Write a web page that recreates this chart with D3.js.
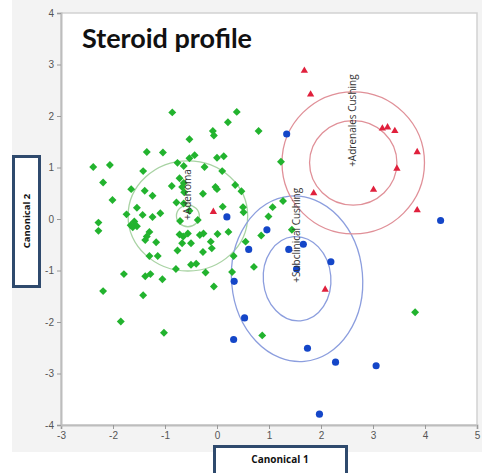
<!DOCTYPE html>
<html>
<head>
<meta charset="utf-8">
<script src="https://cdn.jsdelivr.net/npm/d3@7"></script>
<style>
  body { margin: 0; background: #fff; }
  svg { display: block; }
</style>
</head>
<body>
<div id="graph"></div>
<script>
var width = 486, height = 473;

var xTicks = [-3, -2, -1, 0, 1, 2, 3, 4, 5];
var yTicks = [-4, -3, -2, -1, 0, 1, 2, 3, 4];

// canonical scores, group "Adenoma" (green diamonds)
var greenX = [0.38, 0.21, -0.08, -0.06, 0.80, -0.53, -0.86, -1.35, -1.04, -0.43, -0.53, 0.00, 0.13, 1.23, -2.38, -2.06,
  -0.76, -0.64, -0.24, 0.10, -1.42, -2.19, -0.72, -0.64, -0.67, -0.63, -0.87, 0.35, -0.03, 0.00, 0.47, -0.27,
  -1.65, -1.39, -1.24, -2.01, -0.78, -0.64, -1.54, 0.11, 0.50, 0.51, 1.07, 1.27, -0.53, -1.74, -1.43, -1.24,
  -1.09, 0.99, -0.71, -0.37, -2.28, -2.28, -1.66, -1.59, -1.54, -1.62, -1.30, -1.35, -1.38, -1.17, -0.72, -0.56,
  -0.65, -0.67, -0.50, -0.33, -0.26, 0.01, 0.22, -0.12, -0.10, -0.76, -0.27, 0.85, 0.55, 1.44, 0.32, 0.71,
  -1.30, -1.14, -0.79, -0.50, -0.40, -0.22, 0.29, -1.79, -1.38, -1.28, -1.05, -0.06, -2.19, -1.42, -1.85, -1.02,
  0.87, 3.81];
var greenY = [2.08, 1.88, 1.71, 1.62, 1.71, 1.55, 2.07, 1.30, 1.29, 1.24, 1.18, 1.19, 1.22, 1.11, 1.01, 1.05,
  1.09, 1.03, 1.01, 0.93, 0.93, 0.71, 0.79, 0.70, 0.62, 0.52, 0.64, 0.66, 0.62, 0.58, 0.54, 0.49,
  0.58, 0.55, 0.45, 0.37, 0.32, 0.30, 0.22, 0.24, 0.23, 0.13, 0.23, 0.35, 0.16, 0.09, 0.08, 0.04,
  0.11, 0.05, -0.04, -0.02, -0.07, -0.23, -0.12, -0.05, -0.14, -0.16, -0.25, -0.34, -0.41, -0.45, -0.30, -0.28,
  -0.34, -0.47, -0.47, -0.31, -0.28, -0.29, -0.25, -0.44, -0.57, -0.61, -0.64, -0.32, -0.44, -0.21, -0.72, -0.93,
  -0.72, -0.72, -0.97, -0.89, -0.87, -1.04, -1.03, -1.07, -1.11, -1.07, -1.17, -1.31, -1.40, -1.48, -1.99, -2.21,
  -2.26, -1.81];

// group "Subclinical Cushing" (blue circles)
var blueX = [1.34, 0.19, 0.96, 0.61, 1.66, 1.38, 2.19, 1.53, 0.33, 0.53, 0.32, 1.74, 2.28, 3.06, 1.97, 4.30];
var blueY = [1.65, 0.04, -0.21, -0.59, -0.49, -0.59, -0.83, -0.97, -1.21, -1.92, -2.34, -2.51, -2.78, -2.85, -3.79, -0.03];

// group "Adrenales Cushing" (red triangles)
var redX = [1.68, 1.80, 3.18, 3.28, 3.42, 3.85, 3.46, 3.01, 1.86, 3.85, -0.07, 2.08];
var redY = [2.88, 2.42, 1.76, 1.78, 1.71, 1.30, 0.98, 0.57, 0.50, 0.17, 0.14, -1.37];

// group means and ellipse radii (inner = mean CI, outer = density contour)
var groupNames = ["Adenoma", "Subclinical Cushing", "Adrenales Cushing"];
var groupCx = [-0.56, 1.54, 2.62];
var groupCy = [0.06, -1.16, 1.09];
var innerRx = [0.22, 0.65, 0.84];
var innerRy = [0.21, 0.82, 0.82];
var outerRx = [1.15, 1.26, 1.37];
var outerRy = [1.07, 1.61, 1.38];
var groupTilt = [0, -5, 0];
var groupColor = ["#22b32e", "#1446c8", "#e0203c"];
var ringColor = ["#a9d3a4", "#8c9ede", "#e09098"];

var x = d3.scaleLinear().domain([-3, 5]).range([61, 477]);
var y = d3.scaleLinear().domain([-4, 4]).range([425, 13]);

var svg = d3.select("#graph").append("svg")
    .attr("width", width)
    .attr("height", height)
    .attr("font-family", "'Open Sans', 'DejaVu Sans', sans-serif");

// grey frame behind the plot
svg.append("rect")
    .attr("x", 12).attr("y", 0)
    .attr("width", 470).attr("height", 452)
    .attr("fill", "#f3f3f3");

svg.append("rect")
    .attr("x", x(-3)).attr("y", y(4))
    .attr("width", x(5) - x(-3)).attr("height", y(-4) - y(4))
    .attr("fill", "#fff")
    .attr("stroke", "#d2d2d2")
    .attr("stroke-width", 1.5);

var xAxis = svg.append("g")
    .attr("transform", `translate(0,${y(-4)})`)
    .call(d3.axisBottom(x).tickValues(xTicks).tickSize(4).tickPadding(3).tickFormat(d3.format("d")));
var yAxis = svg.append("g")
    .attr("transform", `translate(${x(-3)},0)`)
    .call(d3.axisLeft(y).tickValues(yTicks).tickSize(4).tickPadding(3).tickFormat(d3.format("d")));

[xAxis, yAxis].forEach(function(g) {
  g.select(".domain").attr("stroke", "#bdbdbd").attr("stroke-width", 2);
  g.selectAll(".tick line").attr("stroke", "#9a9a9a");
  g.selectAll(".tick text")
      .attr("fill", "#555")
      .attr("font-size", 10)
      .text(d => d < 0 ? "-" + Math.abs(d) : d);
});

// title
svg.append("text")
    .attr("x", 82).attr("y", 48)
    .attr("font-family", "Lato, 'Open Sans', sans-serif")
    .attr("font-weight", "bold")
    .attr("font-size", 27)
    .attr("fill", "#111")
    .text("Steroid profile");

// ellipses
var groups = svg.append("g").attr("fill", "none");
groupNames.forEach(function(name, i) {
  var cx = x(groupCx[i]), cy = y(groupCy[i]);
  var g = groups.append("g")
      .attr("transform", `translate(${cx},${cy}) rotate(${groupTilt[i]})`);
  g.append("ellipse")
      .attr("rx", x(groupCx[i] + outerRx[i]) - cx)
      .attr("ry", cy - y(groupCy[i] + outerRy[i]))
      .attr("stroke", ringColor[i]).attr("stroke-width", 1.3);
  g.append("ellipse")
      .attr("rx", x(groupCx[i] + innerRx[i]) - cx)
      .attr("ry", cy - y(groupCy[i] + innerRy[i]))
      .attr("stroke", ringColor[i]).attr("stroke-width", 1.3);
});

// points
var diamond = d3.symbol().type(d3.symbolDiamond2).size(40);
var circle = d3.symbol().type(d3.symbolCircle).size(40);
var triangle = d3.symbol().type(d3.symbolTriangle2).size(38);

svg.append("g").selectAll("path")
    .data(d3.zip(greenX, greenY))
    .join("path")
    .attr("transform", d => `translate(${x(d[0])},${y(d[1])})`)
    .attr("d", diamond)
    .attr("fill", groupColor[0]);

svg.append("g").selectAll("path")
    .data(d3.zip(blueX, blueY))
    .join("path")
    .attr("transform", d => `translate(${x(d[0])},${y(d[1])})`)
    .attr("d", circle)
    .attr("fill", groupColor[1]);

svg.append("g").selectAll("path")
    .data(d3.zip(redX, redY))
    .join("path")
    .attr("transform", d => `translate(${x(d[0])},${y(d[1])})`)
    .attr("d", triangle)
    .attr("fill", groupColor[2]);

// group labels at the means
var labels = svg.append("g")
    .attr("font-size", 10)
    .attr("fill", "#333");
groupNames.forEach(function(name, i) {
  var cx = x(groupCx[i]), cy = y(groupCy[i]);
  labels.append("text")
      .attr("transform", `translate(${cx + 3},${cy + 4}) rotate(-90)`)
      .text("+" + name);
});

// axis title boxes
svg.append("rect")
    .attr("x", 13.5).attr("y", 156.5)
    .attr("width", 26).attr("height", 130)
    .attr("fill", "#fff")
    .attr("stroke", "#2f4a6d").attr("stroke-width", 3);
svg.append("text")
    .attr("transform", "translate(30,221) rotate(-90)")
    .attr("text-anchor", "middle")
    .attr("font-size", 9.5).attr("font-weight", "bold")
    .attr("fill", "#111")
    .text("Canonical 2");

svg.append("rect")
    .attr("x", 214.5).attr("y", 446.5)
    .attr("width", 132).attr("height", 32)
    .attr("fill", "#fff")
    .attr("stroke", "#2f4a6d").attr("stroke-width", 3);
svg.append("text")
    .attr("x", 280).attr("y", 463)
    .attr("text-anchor", "middle")
    .attr("font-size", 10).attr("font-weight", "bold")
    .attr("fill", "#111")
    .text("Canonical 1");
</script>
</body>
</html>
